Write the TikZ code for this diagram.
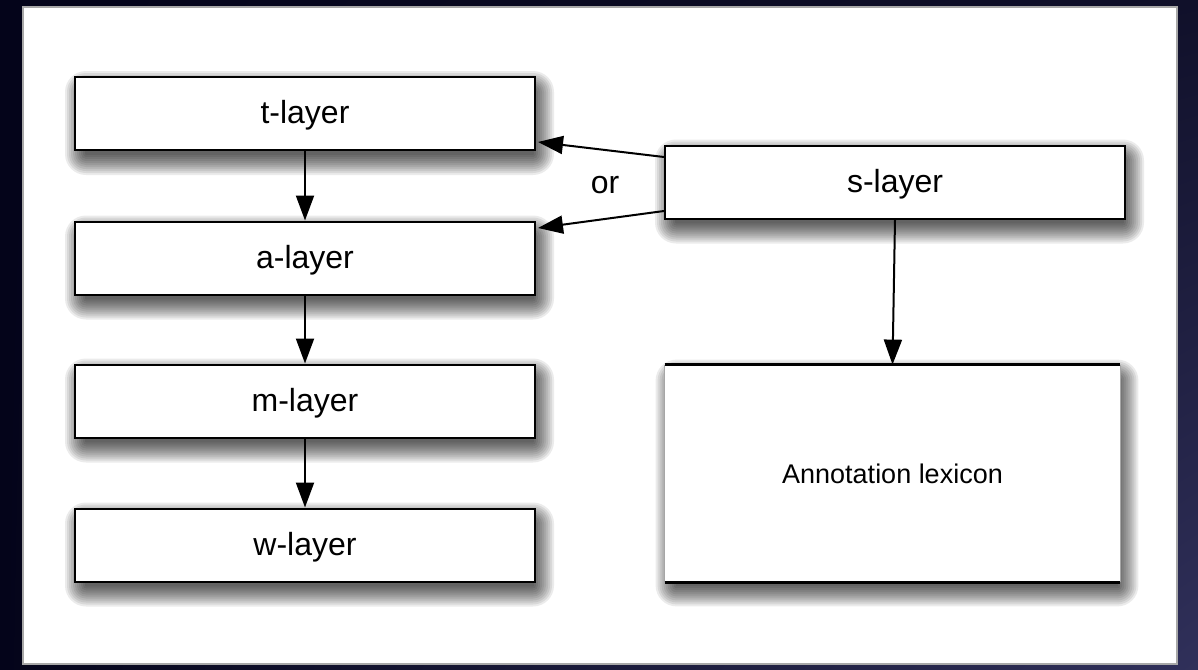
\documentclass[tikz,border=0pt]{standalone}
\usepackage{fontspec}
\setmainfont{Liberation Sans}
\usetikzlibrary{arrows.meta,shadings}
\definecolor{frameDark}{HTML}{04041A}
\definecolor{frameMid}{HTML}{10102A}
\definecolor{frameLight}{HTML}{30305A}
\definecolor{panelEdge}{HTML}{A8A8A8}
\pgfdeclarelayer{frame}
\pgfdeclarelayer{shade}
\pgfsetlayers{frame,shade,main}
\tikzset{
  layerbox/.style={draw=black, line width=1pt, fill=white,
    minimum width=230pt, minimum height=36.5pt, inner sep=0pt,
    text height=13pt, text depth=3pt,
    font=\fontsize{16}{18}\selectfont},
  lexbox/.style={fill=white, minimum width=227.5pt, minimum height=108.5pt,
    inner sep=0pt, font=\fontsize{13.5}{16}\selectfont},
  shadowlayer/.style={fill=black, opacity=0.08},
  link/.style={line width=1pt, -{Triangle[length=12.5pt,width=9pt]}},
}
% soft drop shadow under a node, built from stacked translucent rectangles
\newcommand\castshadow[1]{%
  \begin{pgfonlayer}{shade}
    \foreach \g in {0,2,...,20}{%
      \pgfmathsetmacro\rc{\g*0.5+0.5}
      \fill[shadowlayer, rounded corners=\rc pt]
        ([shift={(11-\g,15-\g)}]#1.north west) rectangle
        ([shift={(-2+\g,4+\g)}]#1.south east);
    }
  \end{pgfonlayer}}
\begin{document}
\begin{tikzpicture}[x=0.5pt,y=-0.5pt]
  \useasboundingbox (0,0) rectangle (1198,669);
  % dark surround and white panel
  \begin{pgfonlayer}{frame}
    \shade[upper left=frameDark, upper right=frameMid,
           lower left=frameDark, lower right=frameLight] (0,0) rectangle (1198,669);
    \draw[panelEdge, line width=1.2pt, fill=white] (23,7) rectangle (1177,664);
  \end{pgfonlayer}

  % layer stack
  \node[layerbox] (t) at (305,113.5) {t-layer};
  \node[layerbox] (a) at (305,258) {a-layer};
  \node[layerbox] (m) at (305,401) {m-layer};
  \node[layerbox] (w) at (305,545) {w-layer};

  % s-layer and lexicon
  \node[layerbox] (s) at (895,182) {s-layer};
  \node[lexbox] (lex) at (892.5,473.5) {Annotation lexicon};
  \draw[black!35, line width=0.4pt] (lex.north west) -- (lex.south west)
    (lex.north east) -- (lex.south east);
  \draw[black, line width=1.5pt] (lex.north west) -- (lex.north east)
    (lex.south west) -- (lex.south east);

  \castshadow{t}
  \castshadow{a}
  \castshadow{m}
  \castshadow{w}
  \castshadow{s}
  \castshadow{lex}

  % connectors
  \draw[link] (t) -- (a);
  \draw[link] (a) -- (m);
  \draw[link] (m) -- (w);
  \draw[link] ([yshift=12.5pt]s.west) -- ([xshift=1pt,yshift=-14.25pt]t.east);
  \draw[link] ([yshift=-14.5pt]s.west) -- ([xshift=1pt,yshift=15pt]a.east);
  \draw[link] (s.south) -- (lex.north);
  \node[font=\fontsize{16}{18}\selectfont] (or) at (605,185) {or};
\end{tikzpicture}
\end{document}
